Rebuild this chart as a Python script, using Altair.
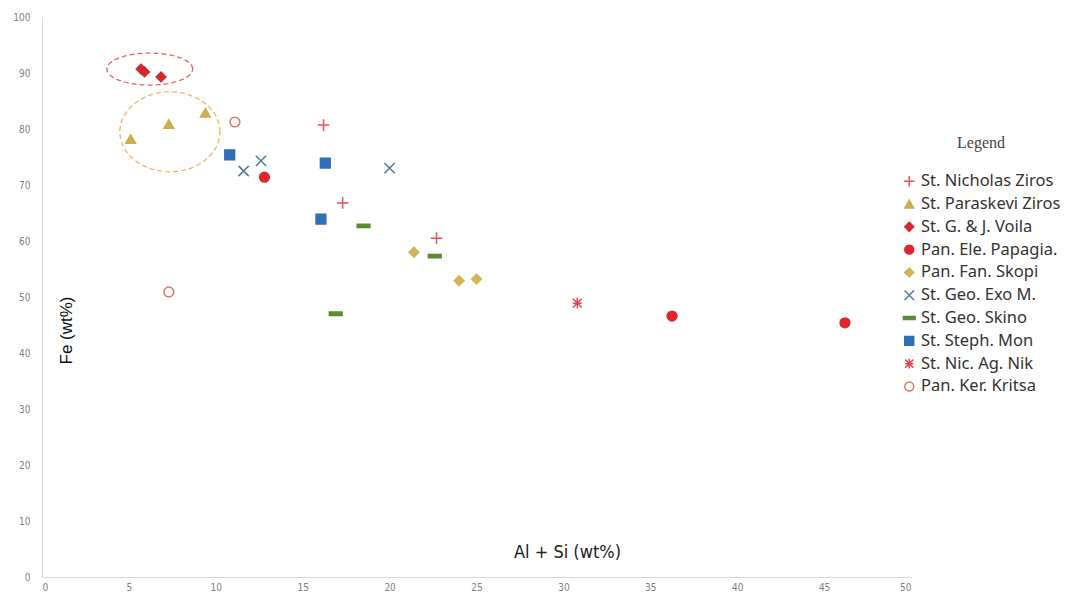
import altair as alt
import numpy as np
import pandas as pd

# ---- data ----
series_names = [
    "St. Nicholas Ziros", "St. Paraskevi Ziros", "St. G. & J. Voila",
    "Pan. Ele. Papagia.", "Pan. Fan. Skopi", "St. Geo. Exo M.",
    "St. Geo. Skino", "St. Steph. Mon", "St. Nic. Ag. Nik", "Pan. Ker. Kritsa",
]
nicholas_x = [16.2, 17.3, 22.7]
nicholas_y = [80.7, 66.8, 60.5]
paraskevi_x = [5.1, 7.3, 9.4]
paraskevi_y = [78.2, 80.9, 82.9]
voila_x = [5.7, 5.9, 6.85]
voila_y = [90.7, 90.2, 89.3]
papagia_x = [12.8, 36.25, 46.2]
papagia_y = [71.4, 46.6, 45.4]
skopi_x = [21.4, 24.0, 25.0]
skopi_y = [58.0, 52.9, 53.2]
exo_x = [11.6, 12.6, 20.0]
exo_y = [72.5, 74.3, 73.0]
skino_x = [18.5, 22.6, 16.9]
skino_y = [62.7, 57.3, 47.0]
steph_x = [10.8, 16.3, 16.05]
steph_y = [75.4, 73.9, 63.9]
agnik_x = [30.8]
agnik_y = [48.9]
kritsa_x = [11.1, 7.3]
kritsa_y = [81.25, 50.9]

xs = [nicholas_x, paraskevi_x, voila_x, papagia_x, skopi_x, exo_x, skino_x, steph_x, agnik_x, kritsa_x]
ys = [nicholas_y, paraskevi_y, voila_y, papagia_y, skopi_y, exo_y, skino_y, steph_y, agnik_y, kritsa_y]

# annotation ellipses (center x, center y, radius x, radius y) in data units
ellipse_red = [6.2, 90.7, 2.47, 2.86]
ellipse_orange = [7.36, 79.5, 2.88, 7.14]

# ---- styling ----
colors = ["#e8505a", "#c9b04e", "#d42a2e", "#e2242c", "#d4b454",
          "#4f7c9c", "#5b8c32", "#2f6fb8", "#e04850", "#e07468"]
fills = ["transparent", "#c9b04e", "#d42a2e", "#e2242c", "#d4b454",
         "transparent", "#5b8c32", "#2f6fb8", "transparent", "transparent"]
shapes = [
    "M-1.2,0H1.2M0,-1.2V1.2",
    "triangle-up",
    "diamond",
    "circle",
    "diamond",
    "M-1.05,-1.05L1.05,1.05M-1.05,1.05L1.05,-1.05",
    "M-1.3,-0.35H1.3V0.35H-1.3Z",
    "square",
    "M-0.9,-0.9L0.9,0.9M-0.9,0.9L0.9,-0.9M0,-1.1V1.1M-0.9,0H0.9",
    "circle",
]

rows = []
for name, xv, yv in zip(series_names, xs, ys):
    for a, b in zip(xv, yv):
        rows.append({"series": name, "x": a, "y": b})
df = pd.DataFrame(rows)


def ellipse_df(e):
    t = np.linspace(0, 2 * np.pi, 73)
    return pd.DataFrame({"x": e[0] + e[2] * np.cos(t),
                         "y": e[1] + e[3] * np.sin(t),
                         "o": np.arange(len(t))})


COND = "DejaVu Sans Condensed, Liberation Sans, sans-serif"

xscale = alt.Scale(domain=[0, 50], nice=False)
yscale = alt.Scale(domain=[0, 100], nice=False)

xaxis = alt.Axis(values=list(range(0, 51, 5)), title="Al + Si (wt%)", grid=False,
                 ticks=False, domainColor="#d9d9d9", labelColor="#7f7f7f",
                 labelFont=COND, labelFontSize=10, labelPadding=5,
                 titleFont=COND, titleFontSize=18,
                 titleFontWeight="normal", titleColor="#222222",
                 titleX=525, titleY=-25, titleBaseline="middle", titleAlign="center")
yaxis = alt.Axis(values=list(range(0, 101, 10)), title="Fe (wt%)", grid=False,
                 ticks=False, domainColor="#d9d9d9", labelColor="#7f7f7f",
                 labelFont=COND, labelFontSize=10, labelPadding=12,
                 titleFont="Liberation Sans", titleFontSize=17,
                 titleFontWeight="normal", titleColor="#111111",
                 titleX=24, titleY=313, titleAngle=270,
                 titleBaseline="middle", titleAlign="center")

legend = alt.Legend(title="Legend", orient="none", legendX=859, legendY=118,
                    titleFont="Liberation Serif", titleFontSize=16,
                    titleFontWeight="normal", titleColor="#444444",
                    titleAnchor="middle", titlePadding=22,
                    labelFont="Noto Sans", labelFontSize=16.5, labelColor="#333333",
                    symbolSize=80, symbolStrokeWidth=1.5, rowPadding=5.8,
                    labelOffset=3.5, padding=0, labelLimit=300)

points = alt.Chart(df).mark_point(size=95, strokeWidth=1.5, opacity=1).encode(
    x=alt.X("x:Q", scale=xscale, axis=xaxis),
    y=alt.Y("y:Q", scale=yscale, axis=yaxis),
    stroke=alt.Stroke("series:N", scale=alt.Scale(domain=series_names, range=colors), legend=legend),
    fill=alt.Fill("series:N", scale=alt.Scale(domain=series_names, range=fills), legend=legend),
    shape=alt.Shape("series:N", scale=alt.Scale(domain=series_names, range=shapes), legend=legend),
)

ell_red = alt.Chart(ellipse_df(ellipse_red)).mark_line(
    strokeDash=[5, 3], strokeWidth=1.3, color="#e06464").encode(
    x=alt.X("x:Q", scale=xscale), y=alt.Y("y:Q", scale=yscale), order="o:Q")
ell_orange = alt.Chart(ellipse_df(ellipse_orange)).mark_line(
    strokeDash=[5, 3], strokeWidth=1.3, color="#f2b463").encode(
    x=alt.X("x:Q", scale=xscale), y=alt.Y("y:Q", scale=yscale), order="o:Q")

chart = alt.layer(ell_red, ell_orange, points).properties(
    width=869, height=560,
    autosize=alt.AutoSizeParams(type="none"),
    padding={"left": 34, "top": 9, "right": 155, "bottom": 17},
).configure_view(stroke=None)

chart.save("out.html", embed_options={"renderer": "svg", "actions": False})
